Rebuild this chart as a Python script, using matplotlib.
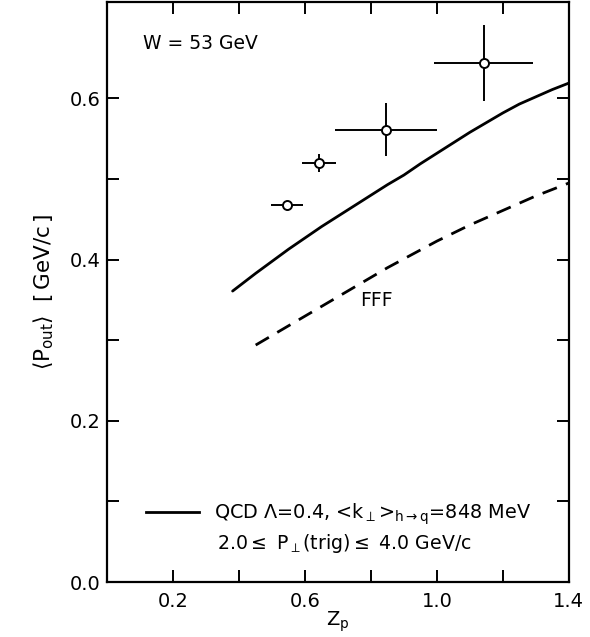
import numpy as np
import matplotlib
matplotlib.use("Agg")
import matplotlib.pyplot as plt
from matplotlib.lines import Line2D

plt.rcParams['font.family'] = ['DejaVu Sans']
plt.rcParams['mathtext.default'] = 'regular'

# datos medidos, W = 53 GeV
zp = [0.545, 0.642, 0.845, 1.142]
zp_err = [0.050, 0.052, 0.155, 0.150]
pout = [0.468, 0.520, 0.561, 0.644]
pout_err = [0.0, 0.011, 0.033, 0.047]

# curva QCD (continua)
qcd_x = [0.38, 0.45, 0.50, 0.55, 0.60, 0.65, 0.70, 0.75, 0.80, 0.85, 0.90,
         0.95, 1.00, 1.05, 1.10, 1.15, 1.20, 1.25, 1.30, 1.35, 1.40]
qcd_y = [0.361, 0.383, 0.398, 0.413, 0.427, 0.441, 0.454, 0.467, 0.480, 0.493, 0.505,
         0.519, 0.532, 0.545, 0.558, 0.570, 0.582, 0.593, 0.602, 0.611, 0.619]

# curva FFF (discontinua)
fff_x = [0.45, 0.50, 0.55, 0.60, 0.65, 0.70, 0.75, 0.80, 0.85, 0.90,
         0.95, 1.00, 1.05, 1.10, 1.15, 1.20, 1.25, 1.30, 1.35, 1.40]
fff_y = [0.294, 0.306, 0.318, 0.330, 0.342, 0.354, 0.366, 0.378, 0.390, 0.401,
         0.412, 0.423, 0.433, 0.443, 0.452, 0.461, 0.470, 0.479, 0.487, 0.495]

fig = plt.figure(figsize=(5.9, 6.37), dpi=100)
ax = fig.add_axes([0.182, 0.0863, 0.782, 0.911])

ax.plot(qcd_x, qcd_y, color='black', lw=2.0, solid_capstyle='round')
ax.plot(fff_x, fff_y, color='black', lw=2.0, dashes=(5.5, 3.5))

ax.errorbar(zp, pout, xerr=zp_err, yerr=pout_err, fmt='o', color='black',
            mfc='white', mec='black', ms=6.5, mew=1.4, elinewidth=1.4, capsize=0)

ax.text(0.767, 0.349, 'FFF', fontsize=13.5, va='center', ha='left')
ax.text(0.077, 0.928, 'W = 53 GeV', transform=ax.transAxes, fontsize=13.5,
        va='center', ha='left')

h = Line2D([], [], color='black', lw=2.0)
ax.legend([h], [r'QCD $\Lambda$=0.4, <k$_\perp$>$_{h\rightarrow q}$=848 MeV'],
          loc='lower left', bbox_to_anchor=(0.055, 0.072), frameon=False,
          fontsize=13.9, handlelength=2.75, handletextpad=0.75, borderpad=0.2)
ax.text(0.237, 0.067, r'2.0$\leq$ P$_\perp$(trig)$\leq$ 4.0 GeV/c',
        transform=ax.transAxes, fontsize=13.6, va='center', ha='left')

ax.set_xlim(0, 1.4)
ax.set_ylim(0, 0.72)
ax.set_xticks([0.2, 0.6, 1.0, 1.4])
ax.set_xticks([0.4, 0.8, 1.2], minor=True)
ax.set_yticks([0.0, 0.2, 0.4, 0.6])
ax.set_yticks([0.1, 0.3, 0.5], minor=True)
ax.set_xticklabels(['0.2', '0.6', '1.0', '1.4'])
ax.set_yticklabels(['0.0', '0.2', '0.4', '0.6'])
ax.tick_params(which='both', direction='in', length=8.5, width=1.4,
               top=True, right=True, labelsize=14)
ax.tick_params(axis='x', pad=7)
ax.tick_params(axis='y', pad=5)
for s in ax.spines.values():
    s.set_linewidth(1.6)

ax.set_xlabel(r'Z$_p$', fontsize=14, labelpad=-1)
ax.set_ylabel(r'$\left\langle P_{out} \right\rangle$  $\left[\,GeV/c\,\right]$',
              fontsize=15.5, labelpad=10)

fig.savefig('out.png', dpi=100)
